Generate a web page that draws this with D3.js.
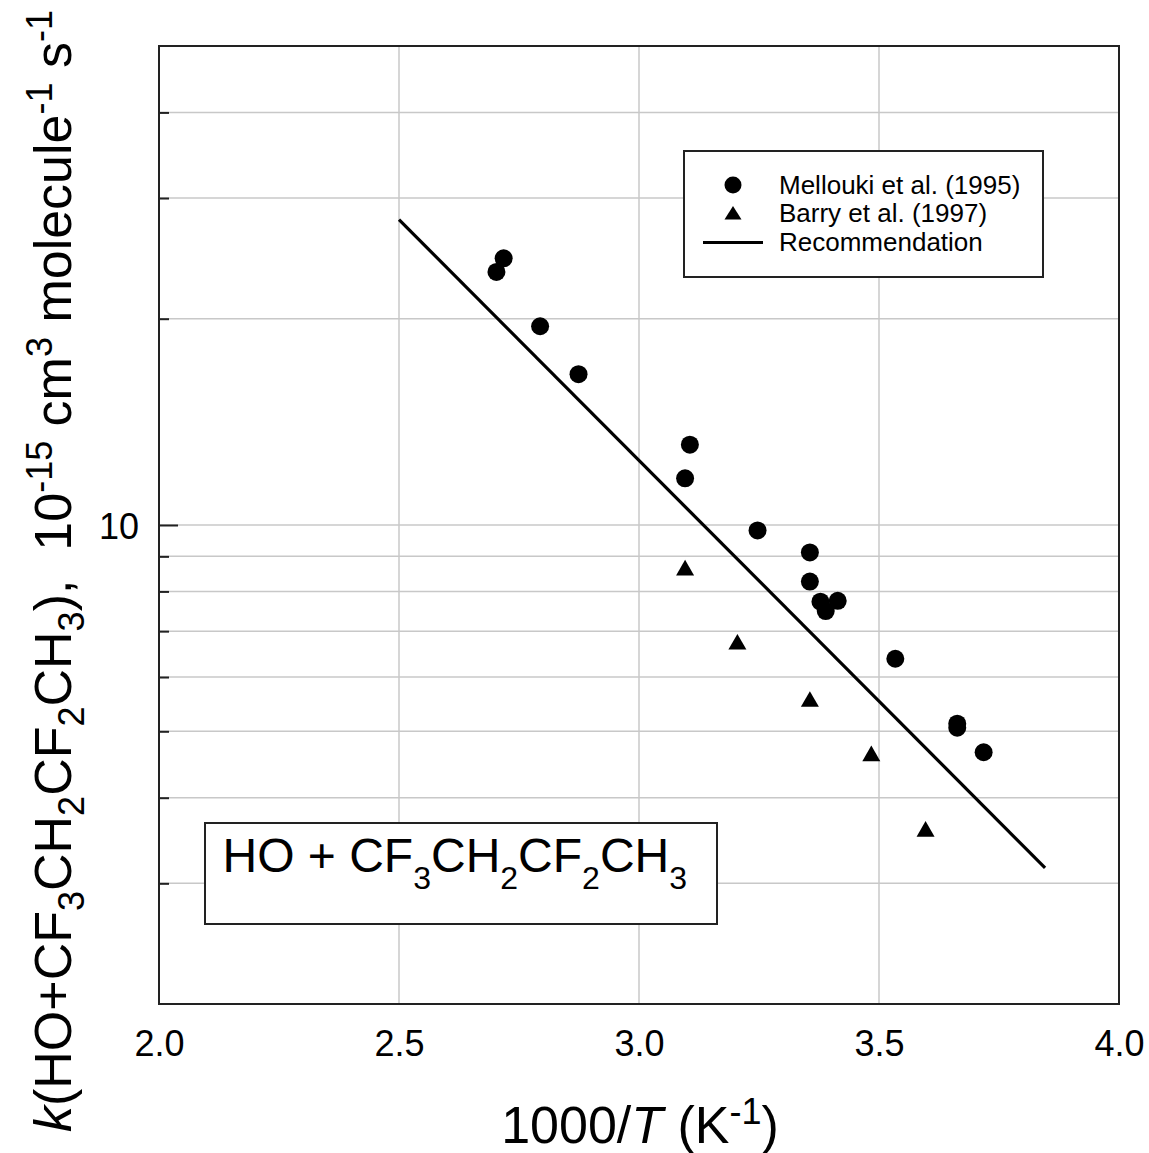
<!DOCTYPE html>
<html>
<head>
<meta charset="utf-8">
<script src="https://cdn.jsdelivr.net/npm/d3@7"></script>
<style>
  html, body { margin: 0; padding: 0; background: #fff; }
  svg { display: block; font-family: "Liberation Sans", Arial, sans-serif; }
</style>
</head>
<body>
<svg id="chart" width="1149" height="1153"></svg>
<script>
// ---- data ----
const melloukiX = [2.703, 2.718, 2.794, 2.874, 3.106, 3.096, 3.247, 3.356, 3.356, 3.378, 3.414, 3.389, 3.534, 3.663, 3.663, 3.718];
const melloukiK = [23.4, 24.5, 19.5, 16.6, 13.1, 11.7, 9.82, 9.12, 8.27, 7.73, 7.75, 7.49, 6.38, 5.13, 5.06, 4.66];
const barryX = [3.096, 3.205, 3.356, 3.484, 3.597];
const barryK = [8.66, 6.75, 5.57, 4.64, 3.60];
const recX = [2.5, 3.846];
const recK = [27.9, 3.16];
const xTicks = [2.0, 2.5, 3.0, 3.5, 4.0];
const xGrid = [2.5, 3.0, 3.5];
const yMajorTicks = [10];
const yMinorTicks = [3, 4, 5, 6, 7, 8, 9, 20, 30, 40];
const legendLabels = ["Mellouki et al. (1995)", "Barry et al. (1997)", "Recommendation"];

// ---- layout ----
const L = 159, R = 1119, T = 46, B = 1004;
const svg = d3.select("#chart");
const x = d3.scaleLinear().domain([2.0, 4.0]).range([L, R]);
const y = d3.scaleLog().domain([2, 50]).range([B, T]);

// grid
const grid = svg.append("g");
grid.selectAll("line.v").data(xGrid).join("line")
  .attr("x1", d => x(d)).attr("x2", d => x(d)).attr("y1", T).attr("y2", B)
  .attr("stroke", "#c8c8c8").attr("stroke-width", 1.5);
grid.selectAll("line.h").data(yMajorTicks.concat(yMinorTicks)).join("line")
  .attr("x1", L).attr("x2", R).attr("y1", d => y(d)).attr("y2", d => y(d))
  .attr("stroke", "#c8c8c8").attr("stroke-width", 1.5);

// left ticks (inside)
const yAxisMajor = d3.axisRight(y).tickValues(yMajorTicks).tickSize(19).tickFormat("");
const yAxisMinor = d3.axisRight(y).tickValues(yMinorTicks).tickSize(10).tickFormat("");
[yAxisMajor, yAxisMinor].forEach(ax => {
  const g = svg.append("g").attr("transform", `translate(${L},0)`).call(ax);
  g.select(".domain").remove();
  g.selectAll(".tick line").attr("stroke", "#222").attr("stroke-width", 2);
});

// y tick labels
const yLab = d3.axisLeft(y).tickValues(yMajorTicks).tickSize(0).tickPadding(20).tickFormat(d3.format("d"));
const gyl = svg.append("g").attr("transform", `translate(${L},0)`).call(yLab);
gyl.select(".domain").remove();
gyl.selectAll("text").attr("font-size", 36).attr("font-family", "Liberation Sans, Arial, sans-serif")
  .attr("fill", "#000").attr("dy", 13);

// x tick labels
const xLab = d3.axisBottom(x).tickValues(xTicks).tickSize(0).tickFormat(d3.format(".1f"));
const gxl = svg.append("g").attr("transform", `translate(0,${B})`).call(xLab);
gxl.select(".domain").remove();
gxl.selectAll("text").attr("font-size", 36).attr("font-family", "Liberation Sans, Arial, sans-serif")
  .attr("fill", "#000").attr("y", 52).attr("dy", 0);

// frame
svg.append("rect").attr("x", L).attr("y", T).attr("width", R - L).attr("height", B - T)
  .attr("fill", "none").attr("stroke", "#222").attr("stroke-width", 2);

// recommendation line
const recData = recX.map((v, i) => [v, recK[i]]);
svg.append("path").datum(recData)
  .attr("d", d3.line().x(d => x(d[0])).y(d => y(d[1])))
  .attr("fill", "none").attr("stroke", "#000").attr("stroke-width", 3.2);

// Mellouki circles
const mData = melloukiX.map((v, i) => [v, melloukiK[i]]);
svg.append("g").selectAll("circle").data(mData).join("circle")
  .attr("cx", d => x(d[0])).attr("cy", d => y(d[1])).attr("r", 9).attr("fill", "#000");

// Barry triangles
const triPath = "M0,-8L9,7.6L-9,7.6Z";
const bData = barryX.map((v, i) => [v, barryK[i]]);
svg.append("g").selectAll("path").data(bData).join("path")
  .attr("d", triPath)
  .attr("transform", d => `translate(${x(d[0])},${y(d[1])})`).attr("fill", "#000");

// legend
const lg = svg.append("g");
lg.append("rect").attr("x", 684).attr("y", 151).attr("width", 359).attr("height", 126)
  .attr("fill", "#fff").attr("stroke", "#222").attr("stroke-width", 2);
lg.append("circle").attr("cx", 733).attr("cy", 185).attr("r", 8.5).attr("fill", "#000");
lg.append("path").attr("d", "M0,-7L8.5,6.5L-8.5,6.5Z").attr("transform", "translate(733,213)").attr("fill", "#000");
lg.append("line").attr("x1", 703).attr("x2", 763).attr("y1", 242.5).attr("y2", 242.5)
  .attr("stroke", "#000").attr("stroke-width", 3.2);
lg.selectAll("text").data(legendLabels).join("text")
  .attr("x", 779).attr("y", (d, i) => 194 + i * 28.3)
  .attr("font-size", 26).attr("fill", "#000").text(d => d);

// rich text helper: parts with optional sub / sup, dy tracked relative to baseline
function chem(textSel, parts, mainSize, smallSize, subShift, supShift) {
  let cur = 0;
  parts.forEach(p => {
    const target = p.sub ? subShift : (p.sup ? -supShift : 0);
    const ts = textSel.append("tspan")
      .attr("font-size", (p.sub || p.sup) ? smallSize : mainSize)
      .attr("dy", target - cur)
      .text(p.t);
    if (p.it) ts.attr("font-style", "italic");
    cur = target;
  });
}

// species label box
svg.append("rect").attr("x", 205).attr("y", 823).attr("width", 512).attr("height", 101)
  .attr("fill", "#fff").attr("stroke", "#222").attr("stroke-width", 2);
const lab = svg.append("text").attr("x", 222.5).attr("y", 871.5).attr("font-size", 48).attr("fill", "#000");
chem(lab, [
  {t: "HO + CF"}, {t: "3", sub: true}, {t: "CH"}, {t: "2", sub: true},
  {t: "CF"}, {t: "2", sub: true}, {t: "CH"}, {t: "3", sub: true}
], 48, 32, 17, 17);

// x title
const xt = svg.append("text").attr("x", 640).attr("y", 1142.5).attr("text-anchor", "middle")
  .attr("font-size", 52).attr("fill", "#000");
chem(xt, [
  {t: "1000/"}, {t: "T", it: true}, {t: " (K"}, {t: "-1", sup: true}, {t: ")"}
], 52, 36, 13, 19);

// y title
const yt = svg.append("text").attr("transform", "translate(71,571) rotate(-90)")
  .attr("text-anchor", "middle").attr("font-size", 52).attr("fill", "#000")
  .attr("xml:space", "preserve").style("white-space", "pre");
chem(yt, [
  {t: "k", it: true}, {t: "(HO+CF"}, {t: "3", sub: true}, {t: "CH"}, {t: "2", sub: true},
  {t: "CF"}, {t: "2", sub: true}, {t: "CH"}, {t: "3", sub: true}, {t: "),  10"},
  {t: "-15", sup: true}, {t: " cm"}, {t: "3", sup: true},
  {t: " molecule"}, {t: "-1", sup: true}, {t: " s"}, {t: "-1", sup: true}
], 52, 36, 13, 19);
</script>
</body>
</html>
